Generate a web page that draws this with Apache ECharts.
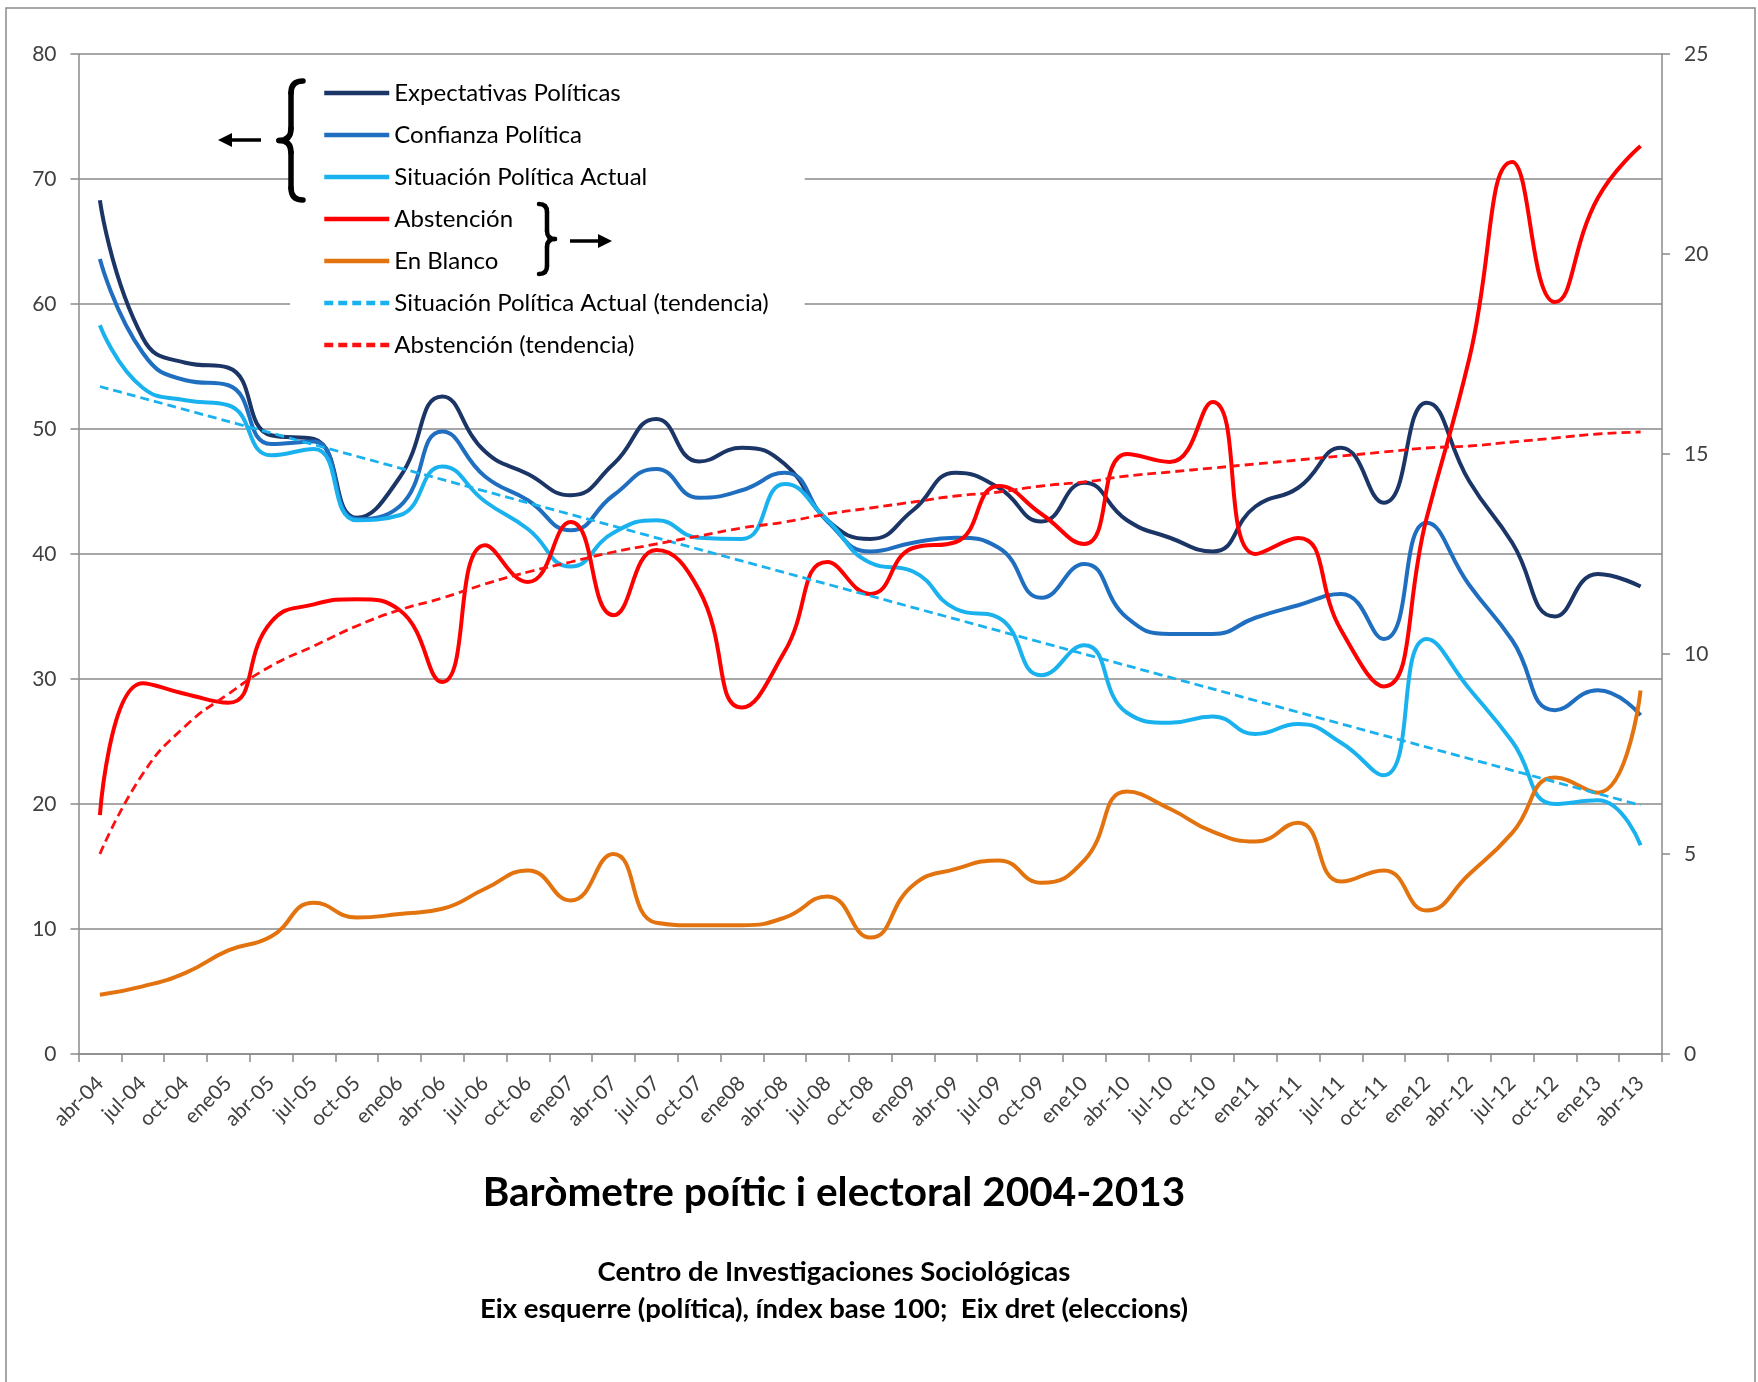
<!DOCTYPE html>
<html>
<head>
<meta charset="utf-8">
<script src="https://cdn.jsdelivr.net/npm/echarts@6/dist/echarts.min.js"></script>
<style>
  html, body { margin: 0; padding: 0; background: #fff; }
  #chart { width: 1758px; height: 1382px; }
</style>
</head>
<body>
<div id="chart"></div>
<script>
// trimestres
var categories = ['abr-04','jul-04','oct-04','ene05','abr-05','jul-05','oct-05','ene06','abr-06','jul-06',
  'oct-06','ene07','abr-07','jul-07','oct-07','ene08','abr-08','jul-08','oct-08','ene09',
  'abr-09','jul-09','oct-09','ene10','abr-10','jul-10','oct-10','ene11','abr-11','jul-11',
  'oct-11','ene12','abr-12','jul-12','oct-12','ene13','abr-13'];

// eje izquierdo (politica)
var expectativas = [68.3,57.3,55.3,54.9,49.5,49.2,42.9,46.1,52.6,48.2,
  46.4,44.7,47.2,50.8,47.4,48.5,47.2,42.7,41.2,43.5,
  46.5,45.3,42.6,45.7,42.7,41.3,40.2,43.8,45.3,48.5,
  44.1,52.1,45.8,40.9,35.0,38.4,37.4];
var confianza = [63.6,56.1,53.9,53.5,48.8,49.0,42.8,43.8,49.8,46.2,
  44.3,41.9,44.7,46.8,44.5,45.1,46.5,42.6,40.2,40.9,
  41.3,40.5,36.5,39.2,34.9,33.6,33.6,34.9,35.9,36.8,
  33.2,42.5,37.5,33.1,27.5,29.1,27.1];
var situacion = [58.3,53.3,52.3,51.9,47.9,48.4,42.7,43.1,47.0,44.2,
  42.0,39.0,41.7,42.7,41.3,41.2,45.6,42.7,39.3,38.6,
  35.6,34.9,30.3,32.7,27.3,26.5,27.0,25.6,26.4,24.9,
  22.3,33.2,29.2,25.0,20.0,20.3,16.7];
var situacionTendEnds = [53.4, 19.9];

// eje derecho (elecciones)
var abstencion = [5.97,9.27,9.0,8.78,10.8,11.24,11.37,11.1,9.3,12.72,
  11.8,13.3,10.97,12.6,11.6,8.66,10.06,12.3,11.5,12.65,
  12.8,14.2,13.5,12.75,15.0,14.8,16.3,12.5,12.9,10.6,
  9.19,13.4,17.4,22.3,18.8,21.4,22.7];
var enBlanco = [1.48,1.69,2.03,2.59,2.94,3.78,3.41,3.5,3.63,4.13,
  4.59,3.84,5.0,3.28,3.22,3.22,3.41,3.94,2.91,4.22,
  4.63,4.84,4.28,4.84,6.56,6.13,5.56,5.31,5.78,4.31,
  4.59,3.59,4.5,5.53,6.91,6.53,9.09];
var abstencionTend = [5.0,7.0,8.2,9.0,9.7,10.2,10.7,11.1,11.4,11.75,
  12.05,12.3,12.55,12.75,12.95,13.15,13.3,13.5,13.65,13.8,
  13.95,14.05,14.2,14.3,14.45,14.55,14.65,14.75,14.85,14.95,
  15.05,15.15,15.2,15.3,15.4,15.5,15.55];

var FONT = 'Lato, "Open Sans", sans-serif';
var GRID = '#8a8a8a';

var chart = echarts.init(document.getElementById('chart'), null, { renderer: 'canvas' });

function lineSerie(name, data, color, yIdx, dash) {
  return {
    name: name, type: 'line', data: data, yAxisIndex: yIdx,
    smooth: 0.5, symbol: 'none', showSymbol: false,
    lineStyle: { color: color, width: dash ? 2.8 : 4, type: dash ? [9, 5] : 'solid' },
    itemStyle: { color: color },
    emphasis: { disabled: true }
  };
}

// llave "{" o "}" hecha con curvas; dir = 1 abre a la izquierda, -1 a la derecha
function brace(x, y1, y2, w, dir, lw) {
  var ym = (y1 + y2) / 2, r = w / 2;
  var xo = x + dir * r, xp = x - dir * r;
  var parts = [
    { type: 'bezierCurve', shape: { x1: xo, y1: y1, cpx1: x, cpy1: y1, x2: x, y2: y1 + r } },
    { type: 'line', shape: { x1: x, y1: y1 + r, x2: x, y2: ym - r } },
    { type: 'bezierCurve', shape: { x1: x, y1: ym - r, cpx1: x, cpy1: ym, x2: xp, y2: ym } },
    { type: 'bezierCurve', shape: { x1: xp, y1: ym, cpx1: x, cpy1: ym, x2: x, y2: ym + r } },
    { type: 'line', shape: { x1: x, y1: ym + r, x2: x, y2: y2 - r } },
    { type: 'bezierCurve', shape: { x1: x, y1: y2 - r, cpx1: x, cpy1: y2, x2: xo, y2: y2 } }
  ];
  parts.forEach(function (p) {
    p.z = 100;
    p.silent = true;
    p.style = { stroke: '#000', lineWidth: lw, fill: 'none', lineCap: 'round' };
  });
  return parts;
}

var sitTend = [[categories[0], situacionTendEnds[0]], [categories[categories.length - 1], situacionTendEnds[1]]];

var option = {
  animation: false,
  backgroundColor: '#fff',
  textStyle: { fontFamily: FONT },
  title: [{
    text: 'Baròmetre poític i electoral 2004-2013',
    left: 829, top: 1167, textAlign: 'center',
    textStyle: { fontFamily: FONT, fontSize: 40.5, fontWeight: 'bold', color: '#000' }
  }, {
    text: 'Centro de Investigaciones Sociológicas\nEix esquerre (política), índex base 100;  Eix dret (eleccions)',
    left: 829, top: 1249, textAlign: 'center',
    textStyle: { fontFamily: FONT, fontSize: 27.5, fontWeight: 'bold', color: '#000', lineHeight: 37 }
  }],
  legend: {
    orient: 'vertical', left: 290, top: 69,
    padding: [10, 36, 10, 32],
    backgroundColor: '#fff',
    itemWidth: 65, itemHeight: 4, itemGap: 14,
    itemStyle: { opacity: 0 },
    lineStyle: { width: 4.5 },
    selectedMode: false,
    textStyle: { fontFamily: FONT, fontSize: 24, lineHeight: 28, color: '#000' },
    data: ['Expectativas Políticas','Confianza Política','Situación Política Actual','Abstención','En Blanco',
      'Situación Política Actual (tendencia)','Abstención (tendencia)']
  },
  grid: { left: 78.5, right: 96, top: 54, bottom: 328 },
  xAxis: {
    type: 'category', data: categories, boundaryGap: true,
    axisLine: { lineStyle: { color: GRID, width: 1.5 } },
    axisTick: { show: true, interval: 0, length: 8, lineStyle: { color: GRID, width: 1.5 } },
    axisLabel: { interval: 0, rotate: 45, margin: 26, fontFamily: FONT, fontSize: 20.5, color: '#404040' }
  },
  yAxis: [{
    type: 'value', min: 0, max: 80, interval: 10, position: 'left',
    axisLine: { show: true, lineStyle: { color: GRID, width: 1.5 } },
    axisTick: { show: true, length: 8, lineStyle: { color: GRID, width: 1.5 } },
    splitLine: { show: true, lineStyle: { color: GRID, width: 1.5 } },
    axisLabel: { margin: 22, fontFamily: FONT, fontSize: 21, color: '#404040' }
  }, {
    type: 'value', min: 0, max: 25, interval: 5, position: 'right',
    axisLine: { show: true, lineStyle: { color: GRID, width: 1.5 } },
    axisTick: { show: true, length: 8, lineStyle: { color: GRID, width: 1.5 } },
    splitLine: { show: false },
    axisLabel: { margin: 22, fontFamily: FONT, fontSize: 21, color: '#404040' }
  }],
  series: [
    lineSerie('Expectativas Políticas', expectativas, '#1a3566', 0, false),
    lineSerie('Confianza Política', confianza, '#1f6ec0', 0, false),
    lineSerie('Situación Política Actual', situacion, '#1ab2ee', 0, false),
    lineSerie('Abstención', abstencion, '#ff0000', 1, false),
    lineSerie('En Blanco', enBlanco, '#e3730f', 1, false),
    lineSerie('Situación Política Actual (tendencia)', sitTend, '#1ab2ee', 0, true),
    lineSerie('Abstención (tendencia)', abstencionTend, '#ff1010', 1, true)
  ],
  graphic: [
    // marco del grafico
    { type: 'rect', z: 0, silent: true, shape: { x: 6, y: 8, width: 1749, height: 1400 },
      style: { fill: 'none', stroke: '#8a8a8a', lineWidth: 1.5 } },
    // flecha izquierda
    { type: 'line', z: 100, silent: true, shape: { x1: 230, y1: 140, x2: 261, y2: 140 },
      style: { stroke: '#000', lineWidth: 3.5 } },
    { type: 'polygon', z: 100, silent: true, shape: { points: [[218, 140], [232, 133], [232, 147]] },
      style: { fill: '#000' } },
    // flecha derecha
    { type: 'line', z: 100, silent: true, shape: { x1: 570, y1: 241, x2: 600, y2: 241 },
      style: { stroke: '#000', lineWidth: 3.5 } },
    { type: 'polygon', z: 100, silent: true, shape: { points: [[612, 241], [598, 234], [598, 248]] },
      style: { fill: '#000' } }
  ].concat(brace(291, 81, 200, 24, 1, 5.5), brace(547, 204, 274, 16, -1, 4.5))
};

chart.setOption(option);
</script>
</body>
</html>
